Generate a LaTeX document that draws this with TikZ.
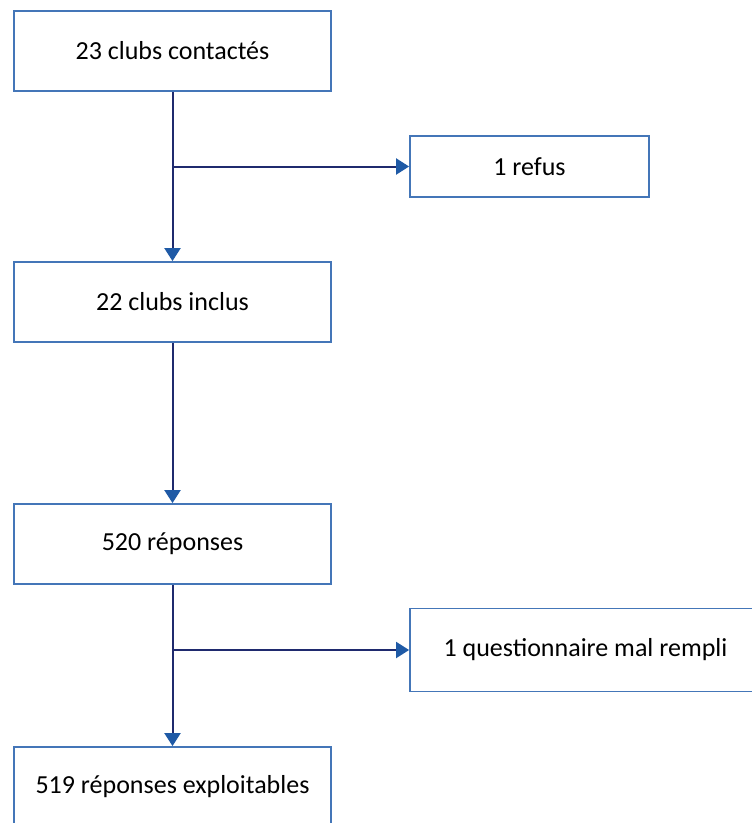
\documentclass[tikz,border=0pt]{standalone}
\usepackage{fontspec}
\setmainfont{Carlito}
\usetikzlibrary{arrows.meta}
\definecolor{boxblue}{HTML}{4476B8}
\definecolor{linenavy}{HTML}{1F2A6E}
\definecolor{tipblue}{HTML}{1F5AA6}

\begin{document}
\begin{tikzpicture}[x=1pt,y=-1pt,
  etape/.style={draw=boxblue,line width=1.8pt,minimum width=317pt,minimum height=80pt,inner sep=0pt,font=\fontsize{26}{30}\selectfont,text=black},
  exclu/.style={etape,minimum width=239pt,minimum height=61pt},
  fleche/.style={draw=linenavy,line width=2pt,-{Triangle[length=13pt,width=16pt,color=tipblue]}}]
  \useasboundingbox (0,0) rectangle (752,823);
  \clip (0,0) rectangle (752,823);
  \node[etape] (contact) at (172.5,51) {23 clubs contactés};
  \node[etape] (inclus) at (172.5,302) {22 clubs inclus};
  \node[etape] (reponses) at (172.5,544) {520 réponses};
  \node[etape] (exploit) at (172.5,787) {519 réponses exploitables};
  \node[exclu] (refus) at (529.5,166.5) {1 refus};
  \node[exclu,minimum width=351pt,minimum height=83pt] (malrempli) at (585.5,650) {1 questionnaire mal rempli};
  % embranchements vers les exclusions
  \coordinate (b1) at (contact.south |- refus.west);
  \coordinate (b2) at (reponses.south |- malrempli.west);
  \draw[fleche] (contact) -- (inclus);
  \draw[fleche] (inclus) -- (reponses);
  \draw[fleche] (reponses) -- (exploit);
  \draw[fleche] (b1) -- (refus);
  \draw[fleche] (b2) -- (malrempli);
\end{tikzpicture}
\end{document}
